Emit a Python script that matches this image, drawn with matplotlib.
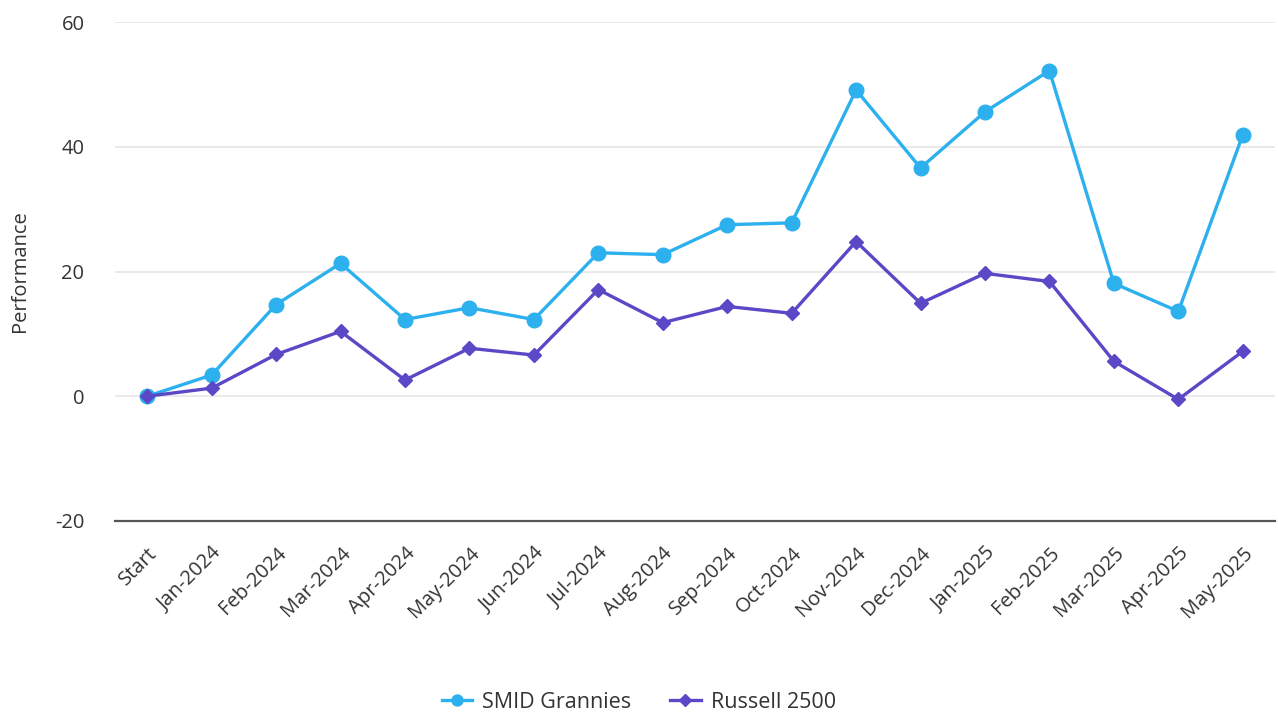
import matplotlib
matplotlib.use('Agg')
import matplotlib.pyplot as plt
import numpy as np

# Data
months = ['Start', 'Jan-2024', 'Feb-2024', 'Mar-2024', 'Apr-2024', 'May-2024',
          'Jun-2024', 'Jul-2024', 'Aug-2024', 'Sep-2024', 'Oct-2024', 'Nov-2024',
          'Dec-2024', 'Jan-2025', 'Feb-2025', 'Mar-2025', 'Apr-2025', 'May-2025']
smid = [0.0, 3.4, 14.7, 21.3, 12.3, 14.2, 12.3, 23.0, 22.7, 27.5, 27.8, 49.1,
        36.6, 45.6, 52.2, 18.1, 13.6, 41.9]
russell = [0.0, 1.3, 6.7, 10.4, 2.6, 7.7, 6.6, 17.1, 11.8, 14.4, 13.3, 24.8,
           14.9, 19.7, 18.4, 5.6, -0.5, 7.2]
yticks = [-20, 0, 20, 40, 60]

plt.rcParams['font.family'] = ['Open Sans', 'DejaVu Sans']
text_color = '#333333'

fig = plt.figure(figsize=(12.78, 7.18), dpi=100)
ax = fig.add_axes([115 / 1278, 1 - 521 / 718, 1160 / 1278, (521 - 22) / 718])

x = np.arange(len(months))
ax.plot(x, smid, color='#2DB0EE', linewidth=2.4, marker='o', markersize=10.5,
        label='SMID Grannies', zorder=3)
ax.plot(x, russell, color='#5A48C6', linewidth=2.4, marker='D', markersize=7.5,
        label='Russell 2500', zorder=4)

ax.set_xlim(-0.5, len(months) - 0.5)
ax.set_ylim(-20, 60)
ax.set_yticks(yticks)
ax.set_yticklabels([str(v) for v in yticks], fontsize=14.5, color=text_color)
ax.set_xticks(x)
ax.set_xticklabels(months, rotation=45, ha='right', va='top', rotation_mode='anchor',
                   fontsize=14.5, color=text_color)
ax.tick_params(axis='both', length=0)
ax.tick_params(axis='y', pad=22)
ax.tick_params(axis='x', pad=16)

ax.grid(axis='y', color='#e6e6e6', linewidth=1.2)
ax.set_axisbelow(True)
for side in ['top', 'right', 'left']:
    ax.spines[side].set_visible(False)
ax.spines['bottom'].set_color('#555555')
ax.spines['bottom'].set_linewidth(1.6)

ax.set_ylabel('Performance', fontsize=14.5, color=text_color)
ax.yaxis.set_label_coords(-0.073, 0.5)

fig.legend(loc='center', bbox_to_anchor=(0.5, 1 - 702 / 718), ncol=2, frameon=False,
           fontsize=15.5, labelcolor=text_color, handlelength=1.4, handletextpad=0.5,
           columnspacing=1.8, markerscale=0.75)

fig.savefig('out.png', dpi=100)
